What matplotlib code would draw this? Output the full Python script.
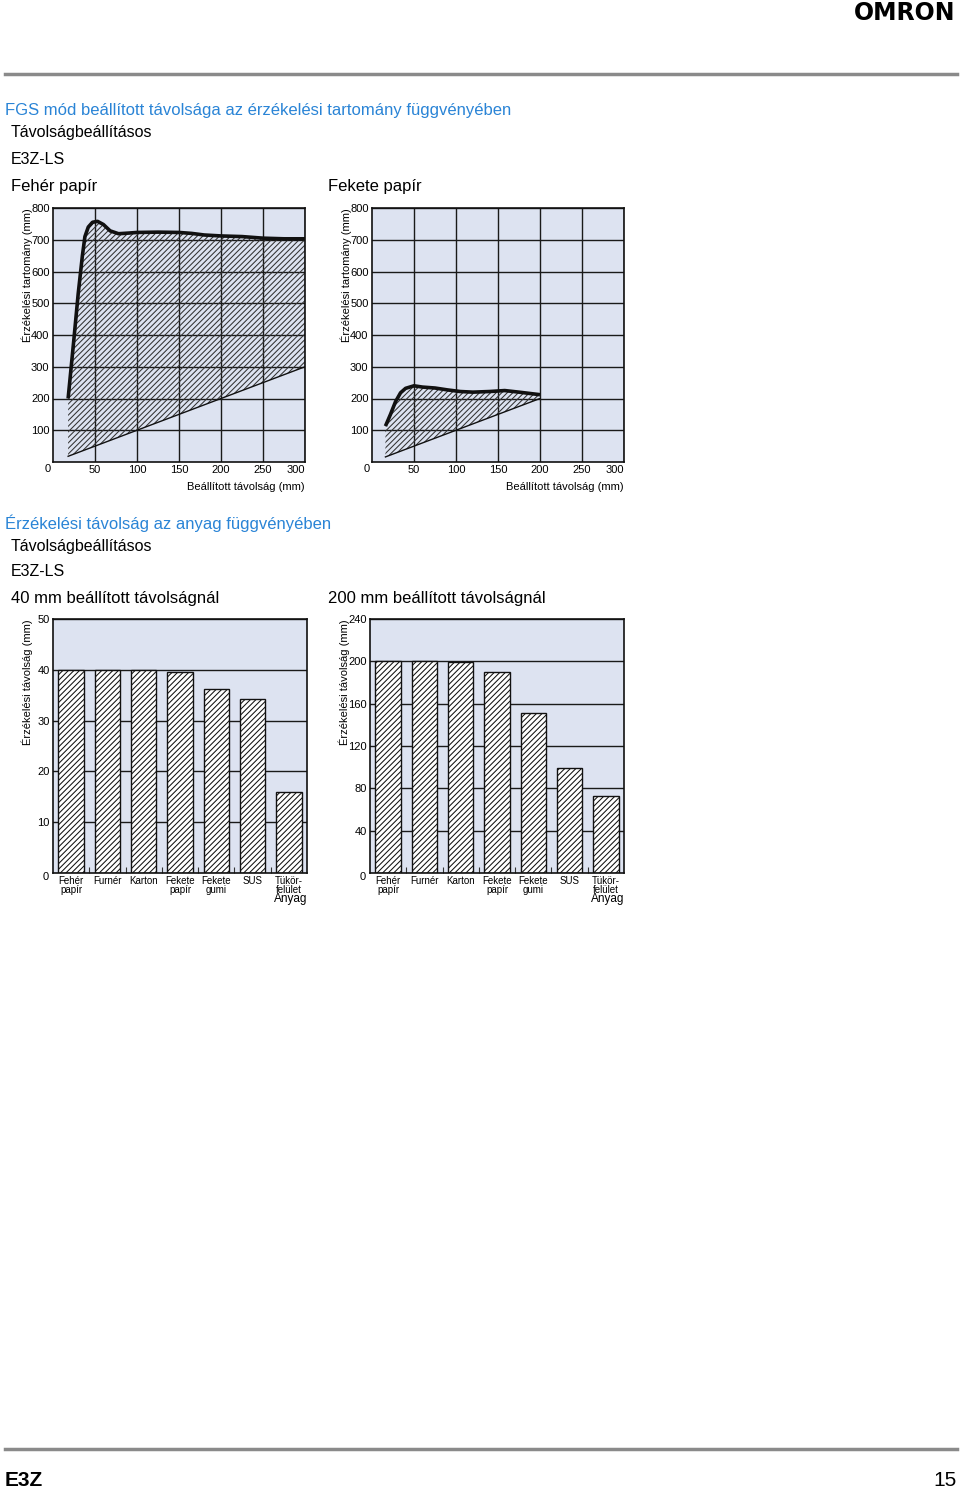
import matplotlib
matplotlib.use("Agg")
import matplotlib.pyplot as plt
import numpy as np

plt.rcParams['font.family'] = ['Liberation Sans', 'DejaVu Sans']
plt.rcParams['hatch.linewidth'] = 0.75
plt.rcParams['hatch.color'] = '#333333'

W, H = 960, 1490
BG = '#dde3f1'
BLUE = '#2a84d6'

# --- data: FGS mode, setting distance vs. sensing range ---
white_x = [18, 25, 30, 35, 38, 42, 47, 53, 60, 68, 78, 90, 100, 125, 150, 165, 180, 200, 225, 250, 275, 300]
white_y = [200, 390, 530, 650, 710, 740, 755, 758, 748, 728, 719, 721, 723, 724, 723, 720, 715, 712, 710, 705, 703, 703]
black_x = [16, 22, 28, 34, 40, 50, 60, 75, 90, 105, 120, 140, 158, 175, 200]
black_y = [113, 150, 190, 218, 232, 240, 236, 233, 227, 222, 220, 222, 225, 220, 212]

# --- data: sensing distance per material ---
materials = ["Fehér\npapír", "Furnér", "Karton", "Fekete\npapír", "Fekete\ngumi", "SUS", "Tükör-\nfelület"]
dist_40 = [40, 40, 40, 39.5, 36.2, 34.3, 15.9]
dist_200 = [200, 200, 199, 189.5, 151, 99, 73]

fig = plt.figure(figsize=(W / 100, H / 100), dpi=100)
fig.patch.set_facecolor('white')


def px_axes(left, top, right, bottom):
    return fig.add_axes([left / W, 1 - bottom / H, (right - left) / W, (bottom - top) / H])


def ftext(x, y, s, **kw):
    fig.text(x / W, 1 - y / H, s, **kw)


def style_axes(ax):
    ax.set_facecolor(BG)
    for sp in ax.spines.values():
        sp.set_linewidth(1.2)
        sp.set_color('#111111')
    ax.tick_params(length=0, labelsize=8, pad=2.5)


def range_chart(left, top, right, bottom, xs, ys):
    ax = px_axes(left, top, right, bottom)
    style_axes(ax)
    xs = np.array(xs, dtype=float)
    ys = np.array(ys, dtype=float)
    ax.fill_between(xs, xs, ys, facecolor='none', edgecolor='#333333',
                    hatch='//////', linewidth=0, zorder=1)
    ax.plot(xs, ys, color='#111111', lw=2.6, solid_capstyle='butt', zorder=3)
    ax.plot([xs[0], xs[-1]], [xs[0], xs[-1]], color='#111111', lw=1.0, zorder=3)
    ax.set_xlim(0, 300)
    ax.set_ylim(0, 800)
    ax.set_xticks(range(50, 301, 50))
    ax.set_yticks(range(100, 801, 100))
    ax.get_xticklabels()[-1].set_ha('right')
    ax.grid(True, color='#1a1a1a', lw=1.0, zorder=0)
    ax.set_axisbelow(True)
    ftext(left - 2, bottom + 7, "0", fontsize=8, ha='right', va='center')
    ftext(right, bottom + 25, "Beállított távolság (mm)", fontsize=8, ha='right', va='center')
    ftext(left - 26, top, "Érzékelési tartomány (mm)", fontsize=8, rotation=90,
          ha='center', va='top')
    return ax


def bar_chart(left, top, right, bottom, vals, ymax, ystep):
    ax = px_axes(left, top, right, bottom)
    style_axes(ax)
    x = np.arange(len(vals))
    ax.bar(x, vals, width=0.7, facecolor='white', edgecolor='#111111', linewidth=1.0,
           hatch='//////', zorder=2)
    ax.set_xlim(-0.5, len(vals) - 0.5)
    ax.set_ylim(0, ymax)
    ax.set_yticks(range(ystep, ymax + 1, ystep))
    ax.set_xticks(x)
    ax.set_xticklabels(materials, fontsize=7, linespacing=0.95)
    ax.set_xticks(np.arange(0.5, len(vals) - 1, 1), minor=True)
    ax.tick_params(axis='x', which='minor', direction='in', length=4, width=0.8, color='#333333')
    ax.tick_params(axis='x', which='major', pad=2)
    ax.grid(True, axis='y', color='#1a1a1a', lw=1.0, zorder=0)
    ax.set_axisbelow(True)
    ftext(left - 4, bottom + 4, "0", fontsize=8, ha='right', va='center')
    ftext(right, bottom + 26, "Anyag", fontsize=8.5, ha='right', va='center')
    ftext(left - 26, top, "Érzékelési távolság (mm)", fontsize=8, rotation=90,
          ha='center', va='top')
    return ax


# header
ftext(955, 13, "OMRON", fontsize=17, fontweight='heavy', family='DejaVu Sans',
      ha='right', va='center')
fig.add_artist(plt.Line2D([5 / W, 957 / W], [1 - 74 / H, 1 - 74 / H], color='#8a8a8a', lw=2.5))

# section 1
ftext(5, 110, "FGS mód beállított távolsága az érzékelési tartomány függvényében",
      fontsize=12, color=BLUE, va='center')
ftext(11, 133, "Távolságbeállításos", fontsize=11.5, va='center')
ftext(11, 159, "E3Z-LS", fontsize=11.5, va='center')
ftext(11, 186, "Fehér papír", fontsize=12, va='center')
ftext(328, 186, "Fekete papír", fontsize=12, va='center')

range_chart(53, 208, 305, 462, white_x, white_y)
range_chart(372, 208, 624, 462, black_x, black_y)

# section 2
ftext(5, 523, "Érzékelési távolság az anyag függvényében", fontsize=12, color=BLUE, va='center')
ftext(11, 546, "Távolságbeállításos", fontsize=11.5, va='center')
ftext(11, 572, "E3Z-LS", fontsize=11.5, va='center')
ftext(11, 599, "40 mm beállított távolságnál", fontsize=12, va='center')
ftext(328, 599, "200 mm beállított távolságnál", fontsize=12, va='center')

bar_chart(53, 619, 307, 873, dist_40, 50, 10)
bar_chart(370, 619, 624, 873, dist_200, 240, 40)

# footer
fig.add_artist(plt.Line2D([5 / W, 957 / W], [1 - 1449 / H, 1 - 1449 / H], color='#8a8a8a', lw=2.5))
ftext(5, 1481, "E3Z", fontsize=15, fontweight='bold', va='center')
ftext(957, 1481, "15", fontsize=15, ha='right', va='center')

fig.savefig("out.png", dpi=100)
